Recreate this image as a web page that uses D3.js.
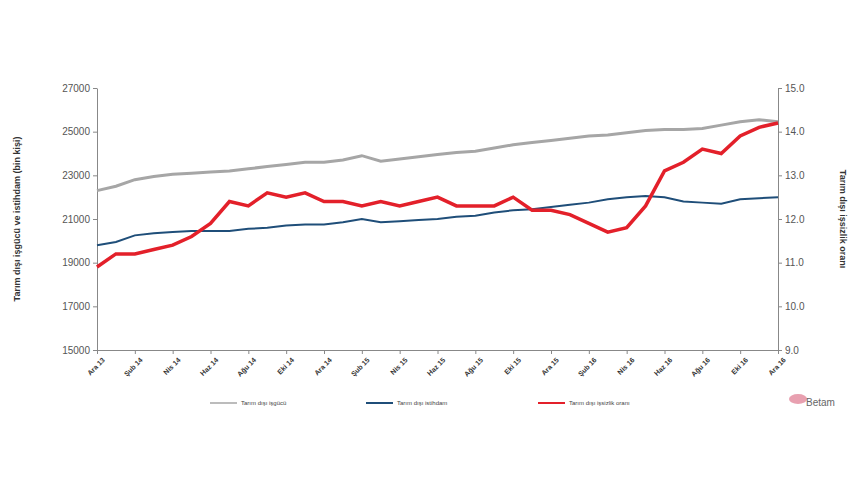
<!DOCTYPE html><html><head><meta charset="utf-8"><script src="https://cdn.jsdelivr.net/npm/d3@7"></script>
<style>body{margin:0;background:#fff;font-family:"Liberation Sans",Arial,sans-serif}</style></head><body><svg id="c" width="860" height="480"></svg><script>
const months=["Ara 13","Oca 14","Şub 14","Mar 14","Nis 14","May 14","Haz 14","Tem 14","Ağu 14","Eyl 14","Eki 14","Kas 14","Ara 14","Oca 15","Şub 15","Mar 15","Nis 15","May 15","Haz 15","Tem 15","Ağu 15","Eyl 15","Eki 15","Kas 15","Ara 15","Oca 16","Şub 16","Mar 16","Nis 16","May 16","Haz 16","Tem 16","Ağu 16","Eyl 16","Eki 16","Kas 16","Ara 16"];
const labor=[22300,22500,22800,22950,23050,23100,23150,23200,23300,23400,23500,23600,23600,23700,23900,23650,23750,23850,23950,24050,24100,24250,24400,24500,24600,24700,24800,24850,24950,25050,25100,25100,25150,25300,25450,25550,25450];
const employ=[19800,19950,20250,20350,20400,20450,20450,20450,20550,20600,20700,20750,20750,20850,21000,20850,20900,20950,21000,21100,21150,21300,21400,21450,21550,21650,21750,21900,22000,22050,22000,21800,21750,21700,21900,21950,22000];
const unemp=[10.9,11.2,11.2,11.3,11.4,11.6,11.9,12.4,12.3,12.6,12.5,12.6,12.4,12.4,12.3,12.4,12.3,12.4,12.5,12.3,12.3,12.3,12.5,12.2,12.2,12.1,11.9,11.7,11.8,12.3,13.1,13.3,13.6,13.5,13.9,14.1,14.2];
const leftTicks=[15000,17000,19000,21000,23000,25000,27000];
const rightTicks=[9,10,11,12,13,14,15];
const svg=d3.select("#c");
const L=97,R=778,T=88,B=350;
const x=d3.scalePoint().domain(months).range([L,R]);
const yl=d3.scaleLinear().domain([15000,27000]).range([B,T]);
const yr=d3.scaleLinear().domain([9,15]).range([B,T]);
const ax=svg.append("g").attr("transform",`translate(0,${B})`).call(d3.axisBottom(x).tickValues(months.filter((d,i)=>i%2==0)).tickSize(4).tickSizeOuter(0));
ax.selectAll("text").attr("transform","rotate(-45)").attr("text-anchor","end").attr("dx","-2").attr("dy","6").style("font-size","7px").style("font-weight","bold").attr("fill","#333");
const al=svg.append("g").attr("transform",`translate(${L},0)`).call(d3.axisLeft(yl).tickValues(leftTicks).tickFormat(d3.format("d")).tickSize(4).tickSizeOuter(0));
al.selectAll("text").style("font-size","10px").attr("fill","#555");
const ar=svg.append("g").attr("transform",`translate(${R},0)`).call(d3.axisRight(yr).tickValues(rightTicks).tickFormat(d3.format(".1f")).tickSize(4).tickSizeOuter(0));
ar.selectAll("text").style("font-size","10px").attr("fill","#555");
svg.selectAll(".domain,.tick line").attr("stroke","#888");
const ln=(s,y)=>d3.line().x((d,i)=>x(months[i])).y(d=>y(d))(s);
svg.append("path").attr("d",ln(labor,yl)).attr("fill","none").attr("stroke","#a6a6a6").attr("stroke-width",3);
svg.append("path").attr("d",ln(employ,yl)).attr("fill","none").attr("stroke","#1f4e79").attr("stroke-width",2);
svg.append("path").attr("d",ln(unemp,yr)).attr("fill","none").attr("stroke","#e3202a").attr("stroke-width",3.5);
svg.append("text").attr("transform",`translate(20,${(T+B)/2}) rotate(-90)`).attr("text-anchor","middle").style("font-size","9px").style("font-weight","bold").attr("fill","#333").text("Tarım dışı işgücü ve istihdam (bin kişi)");
svg.append("text").attr("transform",`translate(840,${(T+B)/2}) rotate(90)`).attr("text-anchor","middle").style("font-size","9px").style("font-weight","bold").attr("fill","#333").text("Tarım dışı işsizlik oranı");
const leg=[["Tarım dışı işgücü","#a6a6a6",210,1.5],["Tarım dışı istihdam","#1f4e79",366,2],["Tarım dışı işsizlik oranı","#e3202a",538,2]];
leg.forEach(([t,c,lx,w])=>{svg.append("line").attr("x1",lx).attr("x2",lx+27).attr("y1",403).attr("y2",403).attr("stroke",c).attr("stroke-width",w);
svg.append("text").attr("x",lx+31).attr("y",405).style("font-size","6px").attr("fill","#444").text(t);});
svg.append("ellipse").attr("cx",798).attr("cy",399).attr("rx",9).attr("ry",5).attr("fill","#e8a0b0");
svg.append("text").attr("x",806).attr("y",406).style("font-size","10px").attr("fill","#666").text("Betam");
</script></body></html>
